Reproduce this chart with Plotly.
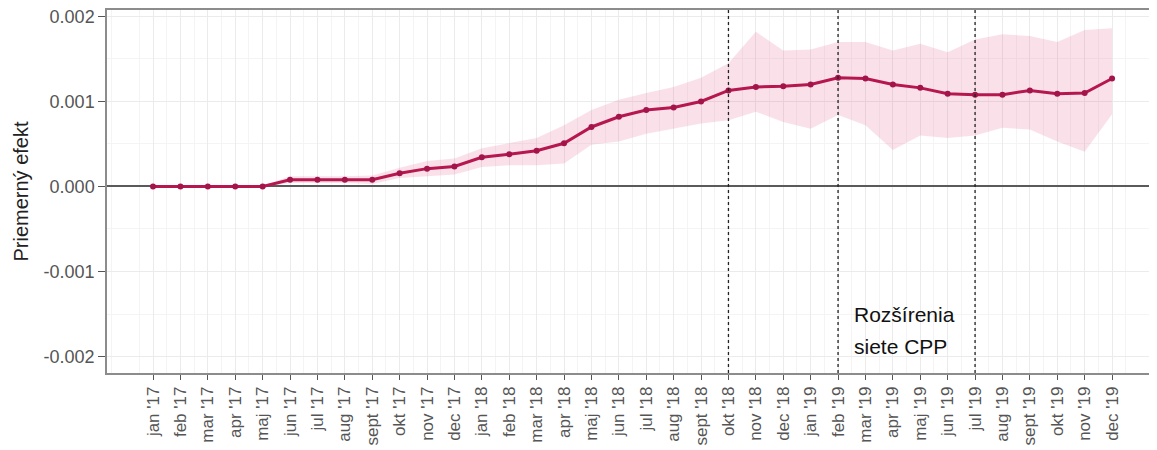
import plotly.graph_objects as go

month_names = ["jan", "feb", "mar", "apr", "maj", "jun", "jul", "aug", "sept", "okt", "nov", "dec"]
years = ["17", "18", "19"]
categories = [f"{m} '{y}" for y in years for m in month_names]

effect = [
    0.0, 0.0, 0.0, 0.0, 0.0, 0.00008, 0.00008, 0.00008, 0.00008, 0.000155, 0.00021, 0.000235,
    0.000343, 0.00038, 0.00042, 0.000508, 0.0007, 0.00082, 0.0009, 0.00093, 0.001, 0.00113, 0.00117, 0.00118,
    0.0012, 0.00128, 0.00127, 0.0012, 0.00116, 0.00109, 0.00108, 0.00108, 0.00113, 0.00109, 0.0011, 0.00127,
]
upper = [
    0.0, 0.0, 0.0, 0.0, 0.00001, 0.00012, 0.00012, 0.00012, 0.00013, 0.00022, 0.0003, 0.00033,
    0.00045, 0.00051, 0.00057, 0.00072, 0.0009, 0.00102, 0.0011, 0.00117, 0.00128, 0.00145, 0.00182, 0.0016,
    0.00161, 0.0017, 0.0017, 0.0016, 0.00168, 0.00158, 0.00173, 0.00179, 0.00177, 0.0017, 0.00184, 0.00186,
]
lower = [
    0.0, 0.0, 0.0, 0.0, -0.00001, 0.00004, 0.00004, 0.00004, 0.00003, 0.0001, 0.00012, 0.00014,
    0.00023, 0.00025, 0.00025, 0.00027, 0.00049, 0.00053, 0.00062, 0.00068, 0.00074, 0.00078, 0.00088, 0.00076,
    0.00068, 0.00084, 0.00072, 0.00043, 0.0006, 0.00057, 0.0006, 0.00069, 0.00067, 0.00053, 0.00041, 0.00085,
]
event_months = ["okt '18", "feb '19", "jul '19"]
annotation_lines = ["Rozšírenia", "siete CPP"]
y_ticks = [-0.002, -0.001, 0.0, 0.001, 0.002]
y_ticktext = ["-0.002", "-0.001", "0.000", "0.001", "0.002"]

x = list(range(len(categories)))
FONT = "Liberation Sans, Arial, sans-serif"
LINE = "#B5174E"

fig = go.Figure()
fig.add_trace(go.Scatter(x=x, y=upper, mode="lines", line=dict(width=0), hoverinfo="skip", showlegend=False))
fig.add_trace(go.Scatter(x=x, y=lower, mode="lines", line=dict(width=0), fill="tonexty",
                         fillcolor="rgba(225,80,125,0.17)", hoverinfo="skip", showlegend=False))
fig.add_trace(go.Scatter(x=x, y=effect, mode="lines+markers",
                         line=dict(color=LINE, width=3),
                         marker=dict(color="#A3144A", size=6),
                         showlegend=False))

for m in event_months:
    xi = categories.index(m)
    fig.add_shape(type="line", xref="x", yref="paper", x0=xi, x1=xi, y0=0, y1=1,
                  line=dict(color="#222222", width=1.3, dash="dot"), layer="above")

ann_x = categories.index("feb '19") + 0.5
for i, txt in enumerate(annotation_lines):
    fig.add_annotation(x=ann_x, y=-0.00151 - i * 0.000376, text=txt, showarrow=False,
                       xanchor="left", yanchor="middle",
                       font=dict(family=FONT, size=21, color="#111111"))

fig.update_layout(
    width=1157, height=450,
    margin=dict(l=99, r=8, t=2, b=85),
    paper_bgcolor="white", plot_bgcolor="white",
    font=dict(family=FONT, color="#4d4d4d"),
)
fig.update_xaxes(
    range=[-1.68, 36.64], automargin=False, ticklabeloverflow="allow",
    tickmode="array", tickvals=x, ticktext=categories, tickangle=-90,
    tickfont=dict(size=17, color="#555555"),
    ticks="outside", ticklen=5, tickcolor="#555555",
    showgrid=True, gridcolor="#EBEBEB", gridwidth=1,
    minor=dict(tickmode="linear", tick0=0.5, dtick=1, showgrid=True, gridcolor="#F4F4F4", gridwidth=1, ticks=""),
    showline=True, mirror=True, linecolor="#8C8C8C", linewidth=1.5,
    zeroline=False,
)
fig.update_yaxes(
    range=[-0.002194, 0.002076], automargin=False, ticklabeloverflow="allow",
    tickmode="array", tickvals=y_ticks, ticktext=y_ticktext,
    tickfont=dict(size=18, color="#555555"),
    ticks="outside", ticklen=7, tickcolor="#555555",
    showgrid=True, gridcolor="#EBEBEB", gridwidth=1,
    minor=dict(tickmode="linear", tick0=0.0005, dtick=0.001, showgrid=True, gridcolor="#F4F4F4", gridwidth=1, ticks=""),
    showline=True, mirror=True, linecolor="#8C8C8C", linewidth=1.5,
    zeroline=True, zerolinecolor="#5A5A5A", zerolinewidth=2,
    title=dict(text="Priemerný efekt", font=dict(size=20, color="#222222"), standoff=10),
)

fig.write_html("out.html")
